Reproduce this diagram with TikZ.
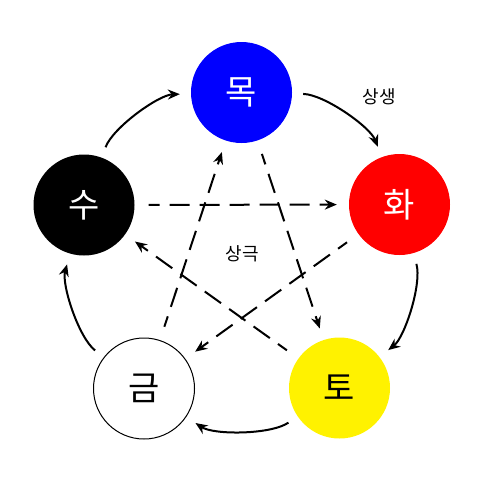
\documentclass[tikz,border=0pt]{standalone}
\usepackage{fontspec}
\newfontfamily\kr{Noto Sans CJK KR}
\usetikzlibrary{arrows.meta}

\tikzset{
    element/.style={circle, minimum size=101pt, inner sep=0pt, font=\kr\fontsize{34}{40}\selectfont},
    small/.style={font=\kr\fontsize{18}{22}\selectfont},
    sang/.style={line width=2pt, -{Stealth[length=12pt, width=10pt, inset=4pt]}, shorten <=11pt, shorten >=11pt},
    geuk/.style={sang, dash pattern=on 20pt off 10pt, dash phase=9pt, shorten <=14pt, shorten >=12pt}
}

\begin{document}
\begin{tikzpicture}[x=1pt, y=-1pt]
    \useasboundingbox (0,0) rectangle (482,482);
    % five elements
    \node[element, fill=blue, text=white] (mok) at (241.5,92.5) {목};
    \node[element, fill=red, text=white] (hwa) at (399.5,204.5) {화};
    \node[element, fill=yellow] (to) at (339.5,388) {토};
    \node[element, draw, line width=1pt, fill=white] (geum) at (144,388.5) {금};
    \node[element, fill=black, text=white] (su) at (84,205) {수};

    \node[small] (saengl) at (379.5,97) {상생};
    \node[small] (geukl) at (242.5,253.5) {상극};

    \draw[sang] (mok) edge[bend left=34, looseness=0.75] (hwa)
                (hwa) edge[bend left=34, looseness=0.75] (to)
                (to) edge[bend left=34, looseness=0.75] (geum)
                (geum) edge[bend left=34, looseness=0.75] (su)
                (su) edge[bend left=34, looseness=0.75] (mok);

    \draw[geuk] (mok) edge (to)
                (to) edge (su)
                (su) edge (hwa)
                (hwa) edge (geum)
                (geum) edge (mok);
\end{tikzpicture}
\end{document}
